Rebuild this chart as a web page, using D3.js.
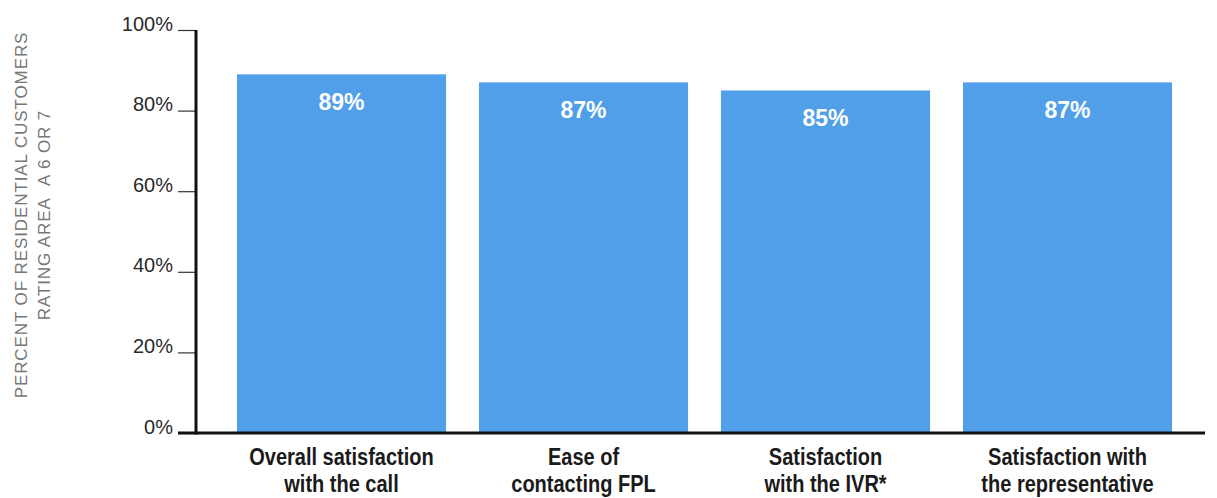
<!DOCTYPE html>
<html><head><meta charset="utf-8">
<script src="https://cdn.jsdelivr.net/npm/d3@7"></script>
<style>body{margin:0;background:#fff;}svg{display:block;}</style>
</head><body>
<svg id="c" width="1217" height="498"></svg>
<script>
const categories = [["Overall satisfaction","with the call"],["Ease of","contacting FPL"],["Satisfaction","with the IVR*"],["Satisfaction with","the representative"]];
const values = [89, 87, 85, 87];
const yTicks = [0, 20, 40, 60, 80, 100];
const yTitle = ["PERCENT OF RESIDENTIAL CUSTOMERS", "RATING AREA\u00a0\u00a0A 6 OR 7"];

const svg = d3.select("#c");
const x = d3.scaleBand().domain(d3.range(values.length)).range([220.5, 1188.5]).paddingInner(0.136).paddingOuter(0.068);
const y = d3.scaleLinear().domain([0, 100]).range([433, 30]);

// bars
svg.selectAll("rect.bar").data(values).join("rect")
  .attr("x", (d,i)=>x(i)).attr("width", x.bandwidth())
  .attr("y", d=>y(d)).attr("height", d=>y(0)-y(d))
  .attr("fill", "#519fe9");

svg.selectAll("text.val").data(values).join("text")
  .attr("x", (d,i)=>x(i)+x.bandwidth()/2).attr("y", d=>y(d)+36)
  .attr("text-anchor","middle").attr("fill","#fff")
  .attr("font-family","Liberation Sans, Arial, sans-serif").attr("font-weight","bold").attr("font-size",23)
  .text(d=>d+"%");

// y axis
const yAxis = d3.axisLeft(y).tickValues(yTicks).tickFormat(d=>d+"%").tickSize(18).tickPadding(5);
const ga = svg.append("g").attr("transform","translate(196,0)").call(yAxis);
ga.select(".domain").remove();
ga.selectAll(".tick line").attr("stroke","#333").attr("stroke-width",1.2);
ga.selectAll(".tick text").attr("fill","#2a2a2a").attr("font-family","Liberation Sans, Arial, sans-serif").attr("font-size",20).attr("dy","0");
svg.append("line").attr("x1",196).attr("x2",196).attr("y1",y(100)).attr("y2",y(0)+1.5).attr("stroke","#111").attr("stroke-width",3);
svg.append("line").attr("x1",178).attr("x2",1205).attr("y1",y(0)).attr("y2",y(0)).attr("stroke","#111").attr("stroke-width",3);

// x labels
const xl = svg.selectAll("text.cat").data(categories).join("text")
  .attr("text-anchor","middle").attr("fill","#1a1a1a")
  .attr("font-family","Liberation Sans, Arial, sans-serif").attr("font-weight","bold").attr("font-size",23)
  .attr("transform",(d,i)=>`translate(${x(i)+x.bandwidth()/2},0) scale(0.87,1)`);
xl.selectAll("tspan").data(d=>d).join("tspan").attr("x",0).attr("y",(d,j)=>465+j*27).text(d=>d);

// y title
const yt = svg.append("text").attr("transform","translate(0,215) rotate(-90)")
  .attr("text-anchor","middle").attr("fill","#777")
  .attr("font-family","Liberation Sans, Arial, sans-serif").attr("font-size",17).attr("letter-spacing",0.9);
yt.selectAll("tspan").data(yTitle).join("tspan").attr("x",0).attr("y",(d,j)=>27+j*23).text(d=>d);
</script>
</body></html>
